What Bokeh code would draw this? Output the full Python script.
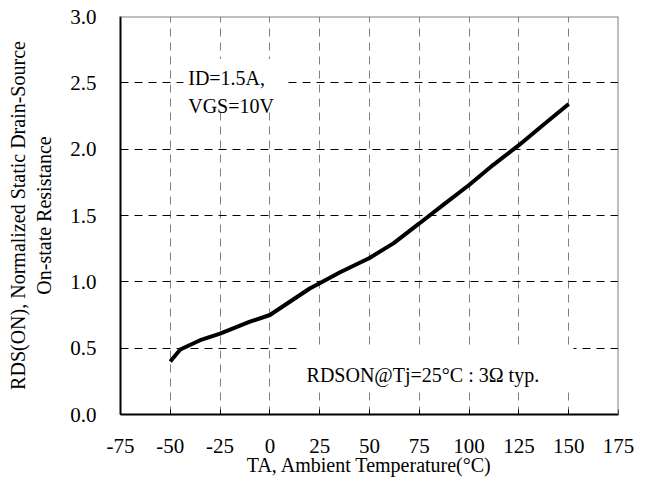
from bokeh.plotting import figure
from bokeh.models import ColumnDataSource, FixedTicker, Label, Span, Range1d
from bokeh.embed import file_html
from bokeh.resources import INLINE

# ---- data ----
temperature = [-50, -45, -35, -25, -10, 0, 10, 20, 25, 35, 50, 62, 75, 87, 100, 112, 125, 137, 150]
r_norm = [0.40, 0.49, 0.56, 0.61, 0.70, 0.75, 0.85, 0.95, 0.99, 1.07, 1.18, 1.29, 1.44, 1.58, 1.73, 1.88, 2.03, 2.18, 2.34]
x_ticks = [-75, -50, -25, 0, 25, 50, 75, 100, 125, 150, 175]
y_ticks = [0.0, 0.5, 1.0, 1.5, 2.0, 2.5, 3.0]
x_title = "TA, Ambient Temperature(°C)"
y_title = "RDS(ON), Normalized Static Drain-Source\nOn-state Resistance"
note1 = "ID=1.5A,"
note2 = "VGS=10V"
note3 = "RDSON@Tj=25°C : 3Ω typ."

FONT = "Liberation Serif"

p = figure(frame_width=498, frame_height=398, output_backend="svg", toolbar_location=None,
           x_range=Range1d(-75, 175), y_range=Range1d(0, 3),
           min_border_left=120, min_border_top=16, min_border_right=20, min_border_bottom=60)
p.background_fill_color = "white"
p.outline_line_color = None

# grid
p.xgrid.ticker = FixedTicker(ticks=x_ticks)
p.ygrid.ticker = FixedTicker(ticks=y_ticks)
p.xgrid.grid_line_color = "#808080"
p.xgrid.grid_line_dash = "8 6"
p.xgrid.grid_line_width = 1
p.ygrid.grid_line_color = "black"
p.ygrid.grid_line_dash = "8 6"
p.ygrid.grid_line_width = 1

# axes
p.xaxis.ticker = FixedTicker(ticks=x_ticks)
p.yaxis.ticker = FixedTicker(ticks=y_ticks)
p.xaxis.major_label_overrides = {t: str(t) for t in x_ticks}
p.yaxis.major_label_overrides = {t: f"{t:.1f}" for t in y_ticks}
for ax in (p.xaxis, p.yaxis):
    ax.axis_line_color = "black"
    ax.axis_line_width = 2
    ax.minor_tick_line_color = None
    ax.major_label_text_font = FONT
    ax.major_label_text_font_size = "21px"
    ax.major_label_text_color = "black"
    ax.axis_label_text_font = FONT
    ax.axis_label_text_font_size = "20px"
    ax.axis_label_text_font_style = "normal"
    ax.axis_label_text_color = "black"
p.xaxis.major_tick_in = 5
p.xaxis.major_tick_out = 0
p.xaxis.major_tick_line_color = "black"
p.xaxis.major_label_standoff = 24
p.xaxis.axis_label = x_title
p.xaxis.axis_label_standoff = -2
p.yaxis.major_tick_line_color = None
p.yaxis.major_tick_in = 0
p.yaxis.major_tick_out = 0
p.yaxis.major_label_standoff = 24
p.yaxis.axis_label = y_title
p.yaxis.axis_label_standoff = 12

# top/right border in grey
p.add_layout(Span(location=3.0, dimension="width", line_color="#808080", line_width=2))
p.add_layout(Span(location=175, dimension="height", line_color="#808080", line_width=2))

# white boxes behind notes
p.quad(left=[-43.4, 13.9], right=[8.8, 152.4], bottom=[2.29, 0.20], top=[2.68, 0.52],
       fill_color="white", line_color=None)

# curve
src = ColumnDataSource(dict(x=temperature, y=r_norm))
p.line("x", "y", source=src, line_color="black", line_width=4)

# notes
for txt, x, y in ((note1, -41.0, 2.535), (note2, -41.0, 2.329), (note3, 18.4, 0.30)):
    p.add_layout(Label(x=x, y=y, text=txt, text_font=FONT, text_font_size="20px",
                       text_color="black", text_baseline="alphabetic", text_align="left"))

open("out.html", "w").write(file_html(p, INLINE))
